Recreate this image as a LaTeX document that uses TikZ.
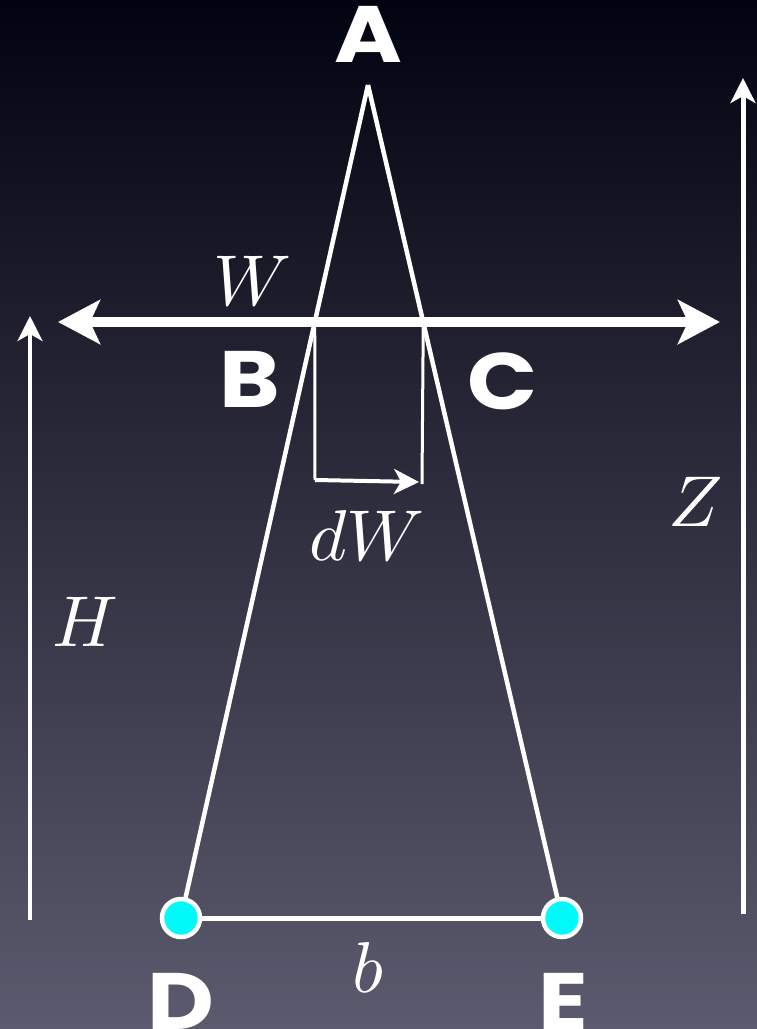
\documentclass[tikz,border=0pt]{standalone}
\usepackage{fontspec}
\newfontfamily\labfont{Poppins}[UprightFont=*-Bold]
\usetikzlibrary{arrows.meta,calc}
\definecolor{ptcyan}{RGB}{0,250,250}
\definecolor{bgtop}{RGB}{2,3,16}
\definecolor{bgmid}{RGB}{28,28,56}
\definecolor{bgbot}{RGB}{92,90,110}
\newcommand{\hugemath}[1]{\scalebox{7.2}{$#1$}}
\newcommand{\widelab}[1]{\scalebox{1.15}[1]{#1}}
\begin{document}
\begin{tikzpicture}[x=1pt,y=-1pt,
  lab/.style={inner sep=0pt,text=white,font=\labfont\fontsize{80}{80}\selectfont},
  mlab/.style={inner sep=0pt,text=white},
  edge/.style={draw=white,line width=4.5pt},
  thin/.style={draw=white,line width=3pt},
  pt/.style={circle,fill=ptcyan,draw=white,line width=4.5pt,minimum size=38pt,inner sep=0pt},
  smalltip/.style={-{Stealth[length=25pt,width=25pt,inset=7pt]}}]
\useasboundingbox (0,0) rectangle (757,1029);
\shade[top color=bgtop,middle color=bgmid,bottom color=bgbot] (0,0) rectangle (757,1029);
% geometry
\coordinate (A) at (368,85);
\coordinate (Dc) at (181,918);
\coordinate (Ec) at (562,918);
\coordinate (B) at ($(A)!0.2849!(Dc)$);
\coordinate (C) at ($(A)!0.2849!(Ec)$);
\coordinate (Wl) at (58,322);
\coordinate (Wr) at (720,322);
\coordinate (B2) at (315,480);
\coordinate (C2) at (422,484);
\coordinate (dWend) at (419,482);
\coordinate (Hb) at (30,920);
\coordinate (Ht) at (30,316);
\coordinate (Zb) at (743,914);
\coordinate (Zt) at (743,78);
% triangle
\draw[edge] (A) -- (Dc);
\draw[edge] (A) -- (Ec);
\draw[draw=white,line width=5pt] (Dc) -- (Ec);
\node[pt] (D) at (Dc) {};
\node[pt] (E) at (Ec) {};
% W arrow
\draw[draw=white,line width=10pt,{Stealth[length=42pt,width=44pt,inset=10pt]}-{Stealth[length=42pt,width=44pt,inset=10pt]}] (Wl) -- (Wr);
% dW
\draw[thin] (B) -- (B2);
\draw[thin] (C) -- (C2);
\draw[thin,line width=4pt,smalltip] (B2) -- (dWend);
% H and Z
\draw[edge,line width=4pt,smalltip] (Hb) -- (Ht);
\draw[edge,line width=5pt,smalltip] (Zb) -- (Zt);
% labels
\node[lab] (Alab) at (368,34) {\widelab{A}};
\node[lab] (Blab) at (250,379) {\widelab{B}};
\node[lab] (Clab) at (503,381) {\widelab{C}};
\node[lab] (Dlab) at (181,1001) {\widelab{D}};
\node[lab] (Elab) at (563,1001) {\widelab{E}};
\node[mlab] (Wlab) at (252,281) {\hugemath{W}};
\node[mlab] (dWlab) at (367,535) {\hugemath{dW}};
\node[mlab] (blab) at (368,967) {\hugemath{b}};
\node[mlab] (Hlab) at (85,622) {\hugemath{H}};
\node[mlab] (Zlab) at (696,502) {\hugemath{Z}};
\end{tikzpicture}
\end{document}
